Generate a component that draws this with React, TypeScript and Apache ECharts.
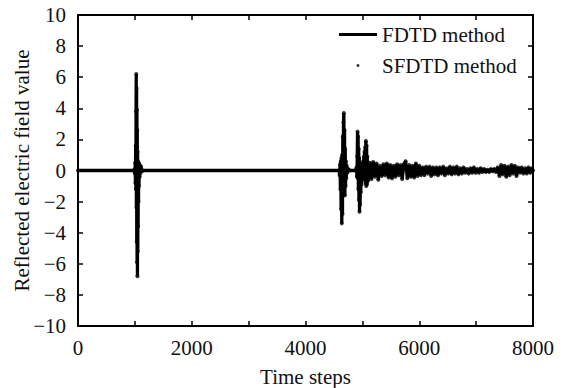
import React, { useEffect, useRef } from 'react';
import * as echarts from 'echarts';

// Tick label values
const xLabelValues = [0, 2000, 4000, 6000, 8000];
const yLabelValues = [-10, -8, -6, -4, -2, 0, 2, 4, 6, 8, 10];

// Quiet start + first pulse (time step, value)
const pulse1Steps = [0, 980, 990, 1000, 1006, 1010, 1014, 1018, 1021, 1024, 1027, 1030, 1033, 1036, 1039, 1042, 1045, 1048, 1051, 1054, 1057, 1060, 1064, 1068, 1072, 1078, 1084, 1092, 1100, 1110, 1120, 1140];
const pulse1Values = [0, 0, 0.05, -0.2, 0.5, -0.8, 1.6, -1.2, 3.8, 6.2, -2.4, 5.3, -4.6, 3.9, -5.9, 2.6, -6.8, 1.2, -5.2, 0.6, -3.6, 0.4, -2.0, 0.5, -1.0, 0.4, -0.4, 0.3, -0.15, 0.25, -0.05, 0];

// Quiet interval + second pulse
const pulse2Steps = [4590, 4600, 4608, 4614, 4620, 4626, 4632, 4638, 4644, 4650, 4656, 4662, 4668, 4674, 4680, 4686, 4692, 4698, 4704, 4710, 4716, 4724, 4734, 4750, 4780, 4880];
const pulse2Values = [0, -0.3, 0.4, -1.2, 0.6, -2.5, 0.8, -3.4, 1.0, -2.8, 2.2, -1.6, 3.1, 3.7, -0.8, 2.6, -1.6, 1.4, -1.0, 0.6, -0.5, 0.3, -0.15, 0.1, 0, 0];

// Third pulse
const pulse3Steps = [4890, 4898, 4904, 4910, 4915, 4920, 4925, 4930, 4935, 4940, 4945, 4950, 4955, 4960, 4966, 4972, 4978, 4984, 4990, 4996, 5002, 5008, 5014, 5020, 5026, 5032, 5038, 5044, 5050, 5056, 5062, 5068, 5074, 5080, 5086, 5092];
const pulse3Values = [0, 0.2, -0.4, 0.9, 2.5, -0.5, 2.2, -1.2, 1.4, -1.9, 0.8, -2.65, 0.5, -2.2, 0.4, -1.4, 0.3, -0.9, 0.4, -0.6, 0.3, -0.4, 0.6, -0.3, 0.9, -0.5, 1.2, -0.6, 1.5, -0.8, 1.9, -1.0, 1.6, -0.9, 0.9, -0.7];

// Late ringing, sampled every 30 time steps from step 5100
const ringStart = 5100;
const ringStep = 30;
const ringValues = [
  -0.6, 0.5, -0.55, 0.55, -0.4, 0.45, -0.6, 0.3, -0.35, 0.4,
  -0.3, 0.45, -0.45, 0.35, -0.5, 0.3, -0.4, 0.4, -0.3, 0.35,
  -0.55, 0.4, 0.6, -0.5, 0.35, -0.4, 0.3, -0.45, 0.45, -0.35,
  0.3, -0.3, 0.2, -0.3, 0.25, -0.2, 0.25, -0.35, 0.2, -0.25,
  0.2, -0.3, 0.2, -0.2, 0.25, -0.3, 0.15, -0.2, 0.25, -0.25,
  0.2, -0.2, 0.25, -0.25, 0.15, -0.2, 0.2, -0.15, 0.1, -0.2,
  0.15, -0.15, 0.2, -0.15, 0.1, -0.15, 0.15, -0.1, 0.1, -0.1,
  0.05, -0.1, 0.1, -0.05, 0.1, -0.1, 0.2, -0.35, 0.35, -0.25,
  0.3, -0.4, 0.25, -0.3, 0.35, -0.2, 0.3, -0.35, 0.2, -0.15,
  0.2, -0.2, 0.15, -0.2, 0.2, -0.15, 0.15,
];
const endStep = 8000;
const endValue = 0;

const FONT = "'Liberation Serif', 'Times New Roman', serif";
const INK = '#111';

function buildData(): [number, number][] {
  const d: [number, number][] = [];
  pulse1Steps.forEach((s, i) => d.push([s, pulse1Values[i]]));
  pulse2Steps.forEach((s, i) => d.push([s, pulse2Values[i]]));
  pulse3Steps.forEach((s, i) => d.push([s, pulse3Values[i]]));
  ringValues.forEach((v, i) => d.push([ringStart + i * ringStep, v]));
  d.push([endStep, endValue]);
  return d;
}

export default function App() {
  const ref = useRef<HTMLDivElement>(null);
  useEffect(() => {
    if (!ref.current) return;
    const chart = echarts.init(ref.current, undefined, { renderer: 'svg' });
    const data = buildData();
    const axisLine = { show: true, onZero: false, lineStyle: { color: '#000', width: 2 } };
    const axisTick = { show: true, inside: true, length: 5, lineStyle: { color: '#000', width: 1.5 } };
    const labelStyle = { fontFamily: FONT, fontSize: 21, color: INK };
    chart.setOption({
      animation: false,
      backgroundColor: '#fff',
      grid: { left: 78, right: 37, top: 15, bottom: 62, containLabel: false, outerBoundsMode: 'none' },
      legend: {
        orient: 'vertical',
        left: 334,
        top: 19,
        itemWidth: 38,
        itemHeight: 3,
        itemGap: 10,
        selectedMode: false,
        textStyle: { fontFamily: FONT, fontSize: 21, color: INK },
        data: [
          { name: 'FDTD method', icon: 'rect', itemStyle: { color: '#000', borderWidth: 0 } },
          { name: 'SFDTD method', icon: 'circle', itemStyle: { color: '#000', borderWidth: 0 } },
        ],
      },
      xAxis: [
        {
          type: 'value', min: 0, max: 8000, interval: 1000, position: 'bottom',
          axisLine, axisTick, splitLine: { show: false },
          axisLabel: {
            ...labelStyle, margin: 11,
            formatter: (v: number) => (xLabelValues.includes(v) ? String(v) : ''),
          },
          name: 'Time steps', nameLocation: 'middle', nameGap: 40, nameMoveOverlap: false,
          nameTextStyle: { fontFamily: FONT, fontSize: 21, color: INK },
        },
        {
          type: 'value', min: 0, max: 8000, interval: 1000, position: 'top',
          axisLine, axisTick, splitLine: { show: false }, axisLabel: { show: false },
        },
      ],
      yAxis: [
        {
          type: 'value', min: -10, max: 10, interval: 2, position: 'left',
          axisLine, axisTick, splitLine: { show: false },
          axisLabel: {
            ...labelStyle, margin: 12,
            formatter: (v: number) => (yLabelValues.includes(v) ? (v < 0 ? '\u2212' + Math.abs(v) : String(v)) : ''),
          },
          name: 'Reflected electric field value', nameLocation: 'middle', nameGap: 46, nameMoveOverlap: false,
          nameTextStyle: { fontFamily: FONT, fontSize: 21, color: INK },
        },
        {
          type: 'value', min: -10, max: 10, interval: 2, position: 'right',
          axisLine, axisTick, splitLine: { show: false }, axisLabel: { show: false },
        },
      ],
      series: [
        {
          name: 'FDTD method', type: 'line', data, showSymbol: false, symbol: 'none',
          xAxisIndex: 0, yAxisIndex: 0,
          lineStyle: { color: '#000', width: 3.3 }, itemStyle: { color: '#000' }, z: 2,
        },
        {
          name: 'SFDTD method', type: 'scatter', data, symbol: 'circle', symbolSize: 4,
          xAxisIndex: 0, yAxisIndex: 0,
          itemStyle: { color: '#000' }, z: 3,
        },
      ],
    });
    return () => chart.dispose();
  }, []);
  return <div ref={ref} style={{ position: 'absolute', left: 0, top: 0, width: 570, height: 388 }} />;
}
